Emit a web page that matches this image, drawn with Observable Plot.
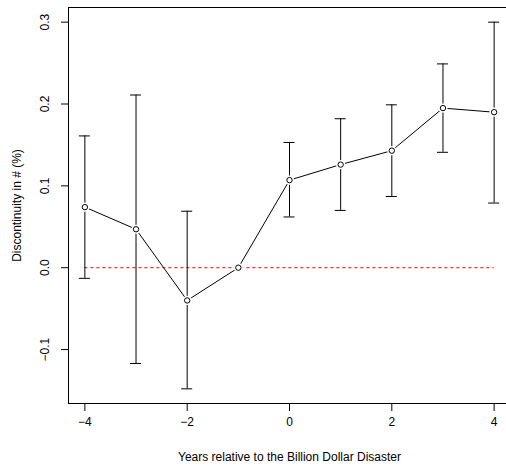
<!DOCTYPE html>
<html>
<head>
<meta charset="utf-8">
<script src="https://cdn.jsdelivr.net/npm/d3@7"></script>
<script src="https://cdn.jsdelivr.net/npm/@observablehq/plot@0.6"></script>
<style>
  html, body { margin: 0; padding: 0; background: #fff; overflow: hidden; }
  #chart svg { display: block; }
</style>
</head>
<body>
<div id="chart"></div>
<script>
// Event-study estimates: discontinuity in # (%) by year relative to the disaster
const years    = [-4, -3, -2, -1, 0, 1, 2, 3, 4];
const estimate = [0.074, 0.047, -0.040, 0.000, 0.107, 0.126, 0.143, 0.195, 0.190];
const lower    = [-0.013, -0.117, -0.148, 0.000, 0.062, 0.070, 0.087, 0.141, 0.079];
const upper    = [0.161, 0.211, 0.069, 0.000, 0.153, 0.182, 0.199, 0.249, 0.300];

const xTicks = [-4, -2, 0, 2, 4];
const yTicks = [-0.1, 0.0, 0.1, 0.2, 0.3];

const xTitle = "Years relative to the Billion Dollar Disaster";
const yTitle = "Discontinuity in # (%)";

const rows = years.map((year, i) => ({year, est: estimate[i], lo: lower[i], hi: upper[i]}));
const bars = rows.filter(d => d.hi > d.lo);

// pad each axis range by 4%, like base graphics
const pad = ([a, b]) => [a - 0.04 * (b - a), b + 0.04 * (b - a)];
const xDomain = pad(d3.extent(years));
const yDomain = pad([d3.min(lower), d3.max(upper)]);

const W = 506, H = 466;
const mLeft = 68, mTop = 7, mBottom = 63;

const font = "Liberation Sans, Arial, Helvetica, sans-serif";

const chart = Plot.plot({
  width: W,
  height: H,
  marginLeft: mLeft,
  marginRight: 0,
  marginTop: mTop,
  marginBottom: mBottom,
  style: {fontFamily: font, fontSize: "12px", color: "#000", background: "#fff"},
  x: {domain: xDomain, range: [mLeft, 510]},
  y: {domain: yDomain},
  marks: [
    // plot box (right edge lies just past the canvas)
    Plot.ruleX([xDomain[0]], {y1: yDomain[0], y2: yDomain[1], stroke: "#000", strokeWidth: 1}),
    Plot.ruleY([yDomain[0], yDomain[1]], {x1: xDomain[0], x2: xDomain[1], stroke: "#000", strokeWidth: 1}),

    // axes
    Plot.axisX({ticks: xTicks, tickSize: 8, tickPadding: 6, tickFormat: d3.format("d"), label: null, fontSize: 12}),
    Plot.axisY({ticks: yTicks, tickSize: 7, tickFormat: () => "", label: null}),
    Plot.text(yTicks, {y: d => d, text: d3.format(".1f"), frameAnchor: "left", textAnchor: "middle", dx: -23, rotate: -90, fontSize: 12}),

    // axis titles
    Plot.text([xTitle], {frameAnchor: "bottom", textAnchor: "middle", dx: 2, dy: 57, fontSize: 12}),
    Plot.text([yTitle], {frameAnchor: "left", textAnchor: "middle", dx: -51, rotate: -90, fontSize: 12}),

    // reference line at zero
    Plot.ruleY([0], {x1: d3.min(years), x2: d3.max(years), stroke: "#ff0000", strokeWidth: 1, strokeDasharray: "3,3"}),

    // confidence intervals
    Plot.ruleX(bars, {x: "year", y1: "lo", y2: "hi", stroke: "#000", strokeWidth: 1}),
    Plot.ruleY(bars, {y: "hi", x1: "year", x2: "year", insetLeft: -5.5, insetRight: -5.5, stroke: "#000", strokeWidth: 1}),
    Plot.ruleY(bars, {y: "lo", x1: "year", x2: "year", insetLeft: -5.5, insetRight: -5.5, stroke: "#000", strokeWidth: 1}),

    // point estimates joined by a line, with gaps around each point
    Plot.line(rows, {x: "year", y: "est", stroke: "#000", strokeWidth: 1}),
    Plot.dot(rows, {x: "year", y: "est", r: 4.6, fill: "#fff", stroke: null}),
    Plot.dot(rows, {x: "year", y: "est", r: 2.7, fill: "#fff", stroke: "#000", strokeWidth: 1})
  ]
});

document.getElementById("chart").appendChild(chart);
</script>
</body>
</html>
